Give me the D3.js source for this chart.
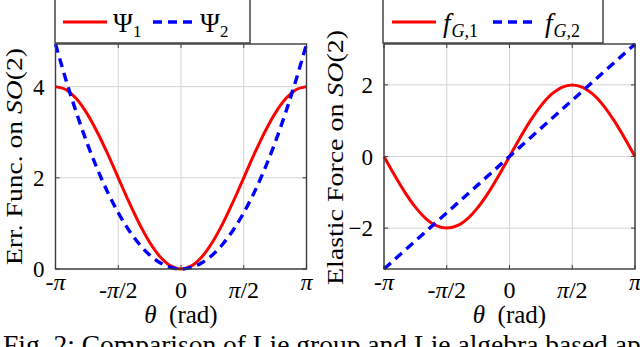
<!DOCTYPE html>
<html>
<head>
<meta charset="utf-8">
<script src="https://cdn.jsdelivr.net/npm/d3@7"></script>
<style>
  body { margin: 0; background: #fff; }
  svg { display: block; font-family: "Liberation Serif", "DejaVu Serif", serif; }
</style>
</head>
<body>
<svg id="canvas" width="640" height="347"></svg>
<script>
// sample angles (rad), every pi/12
const theta = [-3.1416, -2.8798, -2.6180, -2.3562, -2.0944, -1.8326, -1.5708, -1.3090,
               -1.0472, -0.7854, -0.5236, -0.2618, 0, 0.2618, 0.5236, 0.7854, 1.0472,
               1.3090, 1.5708, 1.8326, 2.0944, 2.3562, 2.6180, 2.8798, 3.1416];

// left panel: error functions
const psi1 = [4.000, 3.932, 3.732, 3.414, 3.000, 2.518, 2.000, 1.482, 1.000, 0.586, 0.268,
              0.068, 0, 0.068, 0.268, 0.586, 1.000, 1.482, 2.000, 2.518, 3.000, 3.414,
              3.732, 3.932, 4.000];
const psi2 = [4.935, 4.147, 3.427, 2.776, 2.193, 1.679, 1.234, 0.857, 0.548, 0.308, 0.137,
              0.034, 0, 0.034, 0.137, 0.308, 0.548, 0.857, 1.234, 1.679, 2.193, 2.776,
              3.427, 4.147, 4.935];

// right panel: elastic forces
const force1 = [0, -0.518, -1.000, -1.414, -1.732, -1.932, -2.000, -1.932, -1.732, -1.414,
                -1.000, -0.518, 0, 0.518, 1.000, 1.414, 1.732, 1.932, 2.000, 1.932, 1.732,
                1.414, 1.000, 0.518, 0];
const force2 = [-3.1416, -2.8798, -2.6180, -2.3562, -2.0944, -1.8326, -1.5708, -1.3090,
                -1.0472, -0.7854, -0.5236, -0.2618, 0, 0.2618, 0.5236, 0.7854, 1.0472,
                1.3090, 1.5708, 1.8326, 2.0944, 2.3562, 2.6180, 2.8798, 3.1416];

const thetaTicks = [-Math.PI, -Math.PI / 2, 0, Math.PI / 2, Math.PI];
const thetaTickLabels = ["-π", "-π/2", "0", "π/2", "π"];
const psiTicks = [0, 2, 4];
const forceTicks = [-2, 0, 2];

const captionText = "Fig. 2: Comparison of Lie group and Lie algebra based approaches";

const plot_top = 44;
const plot_bottom = 269;
const red = "#ff0000";
const blue = "#0000ff";
const frameColor = "#3a3a3a";
const gridColor = "#d3d3d3";

const panels = [
  {
    left: 55.5, right: 306.5,
    yDomain: [0, 4.935], yTicks: psiTicks,
    series: [psi1, psi2],
    legend: { x0: 55, x1: 250, items: [[63, 113, "Ψ", "1"], [153, 200, "Ψ", "2"]], italic: false },
    ylabel: { x: 22, y: 156.5, len: 217, parts: [["Err. Func. on ", "normal"], ["SO", "italic"], ["(2)", "normal"]] }
  },
  {
    left: 384, right: 635,
    yDomain: [-Math.PI, Math.PI], yTicks: forceTicks,
    series: [force1, force2],
    legend: { x0: 383, x1: 603, items: [[392, 443, "f", "G,1"], [493, 545, "f", "G,2"]], italic: true },
    ylabel: { x: 343, y: 157.5, len: 255, parts: [["Elastic Force on ", "normal"], ["SO", "italic"], ["(2)", "normal"]] }
  }
];

const svg = d3.select("#canvas");

function tickBaseline(label) {
  // pgfplots anchors tick labels at the top, so bare "π" labels sit higher
  return /[0-9\/]/.test(label) ? 298 : 290;
}

function drawPanel(p) {

  const x = d3.scaleLinear().domain([-Math.PI, Math.PI]).range([p.left, p.right]);
  const y = d3.scaleLinear().domain(p.yDomain).range([plot_bottom, plot_top]);

  const g = svg.append("g");

  // grid
  g.selectAll(".vgrid").data(thetaTicks).join("line")
    .attr("x1", d => x(d)).attr("x2", d => x(d))
    .attr("y1", plot_top).attr("y2", plot_bottom)
    .attr("stroke", gridColor).attr("stroke-width", 1);

  g.selectAll(".hgrid").data(p.yTicks).join("line")
    .attr("x1", p.left).attr("x2", p.right)
    .attr("y1", d => y(d)).attr("y2", d => y(d))
    .attr("stroke", gridColor).attr("stroke-width", 1);

  // inner tick marks on all four sides
  const tl = 4;
  thetaTicks.forEach(d => {
    g.append("line").attr("x1", x(d)).attr("x2", x(d))
      .attr("y1", plot_bottom).attr("y2", plot_bottom - tl)
      .attr("stroke", frameColor).attr("stroke-width", 1);
    g.append("line").attr("x1", x(d)).attr("x2", x(d))
      .attr("y1", plot_top).attr("y2", plot_top + tl)
      .attr("stroke", frameColor).attr("stroke-width", 1);
  });
  p.yTicks.forEach(d => {
    g.append("line").attr("x1", p.left).attr("x2", p.left + tl)
      .attr("y1", y(d)).attr("y2", y(d))
      .attr("stroke", frameColor).attr("stroke-width", 1);
    g.append("line").attr("x1", p.right).attr("x2", p.right - tl)
      .attr("y1", y(d)).attr("y2", y(d))
      .attr("stroke", frameColor).attr("stroke-width", 1);
  });

  // curves
  const line = d3.line()
    .x((d, i) => x(theta[i]))
    .y(d => y(d))
    .curve(d3.curveCatmullRom.alpha(0.5));

  g.append("path").datum(p.series[0])
    .attr("d", line).attr("fill", "none")
    .attr("stroke", red).attr("stroke-width", 3);

  g.append("path").datum(p.series[1])
    .attr("d", line).attr("fill", "none")
    .attr("stroke", blue).attr("stroke-width", 3.4)
    .attr("stroke-dasharray", "9,6");

  // frame
  g.append("rect")
    .attr("x", p.left).attr("y", plot_top)
    .attr("width", p.right - p.left).attr("height", plot_bottom - plot_top)
    .attr("fill", "none").attr("stroke", frameColor).attr("stroke-width", 1.4);

  // x tick labels, pi set in italic like the math font
  g.selectAll(".xlab").data(thetaTicks).join("text")
    .attr("x", d => x(d))
    .attr("y", (d, i) => tickBaseline(thetaTickLabels[i]))
    .attr("text-anchor", "middle")
    .attr("font-size", 24)
    .each(function (d, i) {
      const t = d3.select(this);
      thetaTickLabels[i].split(/(π)/).filter(s => s.length).forEach(s => {
        t.append("tspan")
          .attr("font-style", s == "π" ? "italic" : "normal")
          .text(s == "/" ? " /" : s);
      });
    });

  // y tick labels
  g.selectAll(".ylab").data(p.yTicks).join("text")
    .attr("x", p.left - 11)
    .attr("y", d => y(d) + 8)
    .attr("text-anchor", "end")
    .attr("font-size", 23)
    .text(d => d < 0 ? "−" + Math.abs(d) : d);

  // x axis title
  const xt = g.append("text")
    .attr("x", x(0)).attr("y", 323)
    .attr("text-anchor", "middle")
    .attr("font-size", 25);
  xt.append("tspan").attr("font-style", "italic").text("θ");
  xt.append("tspan").text("  (rad)").attr("xml:space", "preserve");

  // y axis title
  const yt = g.append("text")
    .attr("transform", "translate(" + p.ylabel.x + "," + p.ylabel.y + ") rotate(-90)")
    .attr("text-anchor", "middle")
    .attr("font-size", 24)
    .attr("textLength", p.ylabel.len)
    .attr("lengthAdjust", "spacingAndGlyphs");
  p.ylabel.parts.forEach(part => {
    yt.append("tspan").attr("font-style", part[1]).text(part[0]);
  });

  // legend
  const lg = p.legend;
  g.append("rect")
    .attr("x", lg.x0).attr("y", -2)
    .attr("width", lg.x1 - lg.x0).attr("height", plot_top - 1 + 2)
    .attr("fill", "#fff").attr("stroke", frameColor).attr("stroke-width", 1.4);

  lg.items.forEach((item, i) => {
    g.append("line")
      .attr("x1", item[0]).attr("x2", item[0] + 44)
      .attr("y1", 22).attr("y2", 22)
      .attr("stroke", i == 0 ? red : blue)
      .attr("stroke-width", i == 0 ? 3 : 3.4)
      .attr("stroke-dasharray", i == 0 ? null : "9,6");
    const t = g.append("text")
      .attr("x", item[1]).attr("y", 32)
      .attr("font-size", 27);
    t.append("tspan")
      .attr("font-style", lg.italic ? "italic" : "normal")
      .text(item[2]);
    if (lg.italic) {
      // subscript like G,1 : letter italic, comma and digit upright
      t.append("tspan").attr("dy", 5).attr("font-size", 18)
        .attr("font-style", "italic").attr("dx", 1).text(item[3][0]);
      t.append("tspan").attr("font-size", 18)
        .text(item[3].slice(1));
    } else {
      t.append("tspan")
        .attr("dy", 5).attr("font-size", 17)
        .text(item[3]);
    }
  });

}

panels.forEach(drawPanel);

// caption (cut off by the image border, as in the source figure)
svg.append("text")
  .attr("x", 3).attr("y", 354)
  .attr("font-size", 27.5)
  .text(captionText);

</script>
</body>
</html>
